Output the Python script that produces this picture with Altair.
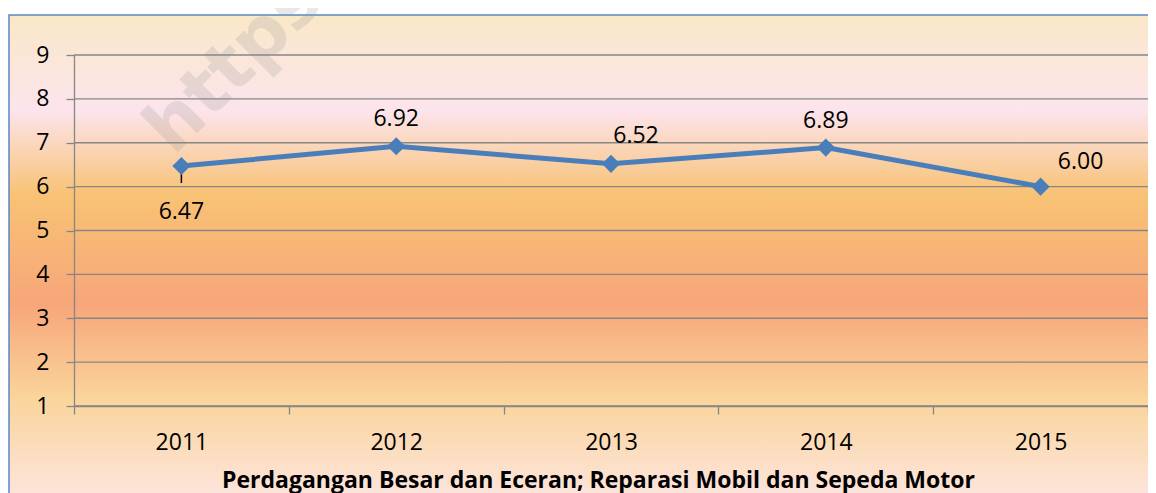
import altair as alt
import pandas as pd

years = ["2011", "2012", "2013", "2014", "2015"]
values = [6.47, 6.92, 6.52, 6.89, 6.00]
labels = ["6.47", "6.92", "6.52", "6.89", "6.00"]
y_ticks = [1, 2, 3, 4, 5, 6, 7, 8, 9]
x_title = "Perdagangan Besar dan Eceran; Reparasi Mobil dan Sepeda Motor"

df = pd.DataFrame({"year": years, "value": values, "label": labels})
grid_df = pd.DataFrame({"tick": y_ticks})

FONT = "Open Sans"
W, H = 1074, 351

x_enc = alt.X("year:N", sort=years, bandPosition=0.5,
              scale=alt.Scale(type="band", paddingInner=0, paddingOuter=0),
              axis=alt.Axis(title=x_title, grid=False, tickBand="extent", labelAngle=0,
                            labelFontSize=23, labelFont=FONT, labelColor="#000000",
                            labelPadding=17, tickSize=8, tickColor="#868686", tickWidth=1.3,
                            domainColor="#868686", domainWidth=1.3,
                            titleFont=FONT, titleFontSize=23, titleFontWeight="bold",
                            titleColor="#000000", titlePadding=15, titleX=524,
                            titleAlign="center", zindex=1))
y_scale = alt.Scale(domain=[1, 9], nice=False, zero=False)
y_enc = alt.Y("value:Q", scale=y_scale,
              axis=alt.Axis(title=None, grid=False, values=y_ticks, labelFontSize=23,
                            labelFont=FONT, labelColor="#000000", labelPadding=17,
                            tickSize=8, tickColor="#868686", tickWidth=1.3,
                            domainColor="#868686", domainWidth=1.3, zindex=1))

gradient = alt.Gradient(
    gradient="linear", x1=0, y1=0, x2=0, y2=1,
    stops=[
        alt.GradientStop(color="#FAE8C8", offset=0.0),
        alt.GradientStop(color="#FCE4EC", offset=0.195),
        alt.GradientStop(color="#F8C274", offset=0.367),
        alt.GradientStop(color="#F7A67A", offset=0.59),
        alt.GradientStop(color="#FAD49A", offset=0.78),
        alt.GradientStop(color="#FDE6E2", offset=1.0),
    ],
)

base = alt.Chart(df)

bg = base.transform_filter(alt.datum.year == "2011").mark_rect(
    fill=gradient, clip=False, stroke="#5B86C5", strokeWidth=1.5
).encode(x=alt.value(-65), x2=alt.value(1140), y=alt.value(-40), y2=alt.value(450))

watermark = base.transform_filter(alt.datum.year == "2011").mark_text(
    text="https", angle=315, fontSize=72, fontWeight="bold", font="DejaVu Sans",
    color="#9A9A9A", opacity=0.22, clip=False
).encode(x=alt.value(160), y=alt.value(10))

grid = alt.Chart(grid_df).mark_rule(color="#868686", strokeWidth=1.3).encode(
    y=alt.Y("tick:Q", scale=y_scale), x=alt.value(0), x2=alt.value(W)
)

line = base.mark_line(color="#4A7EBB", strokeWidth=5).encode(x=x_enc, y=y_enc)
pts = base.mark_point(shape="diamond", filled=True, size=330, color="#4A7EBB", opacity=1).encode(x=x_enc, y=y_enc)

leader = base.transform_filter(alt.datum.year == "2011").mark_rule(
    color="#000000", strokeWidth=1.5, y2Offset=17, yOffset=2
).encode(x=x_enc, y=y_enc, y2="value:Q")

def lab(yrs, dx, dy):
    return base.transform_filter(alt.FieldOneOfPredicate(field="year", oneOf=yrs)).mark_text(
        fontSize=23, font=FONT, color="#000000", dx=dx, dy=dy
    ).encode(x=x_enc, y=y_enc, text="label:N")

labs = [
    lab(["2011"], 0, 46),
    lab(["2012", "2014"], 0, -27),
    lab(["2013"], 25, -28),
    lab(["2015"], 40, -25),
]

chart = alt.layer(bg, watermark, grid, line, leader, pts, *labs).properties(
    width=W, height=H,
    autosize=alt.AutoSizeParams(type="none"),
    padding={"left": 66, "top": 47, "right": 0, "bottom": 87},
).configure_view(stroke=None).configure(background="#FFFFFF")

chart.save("out.html", embed_options={"renderer": "svg", "actions": False})
